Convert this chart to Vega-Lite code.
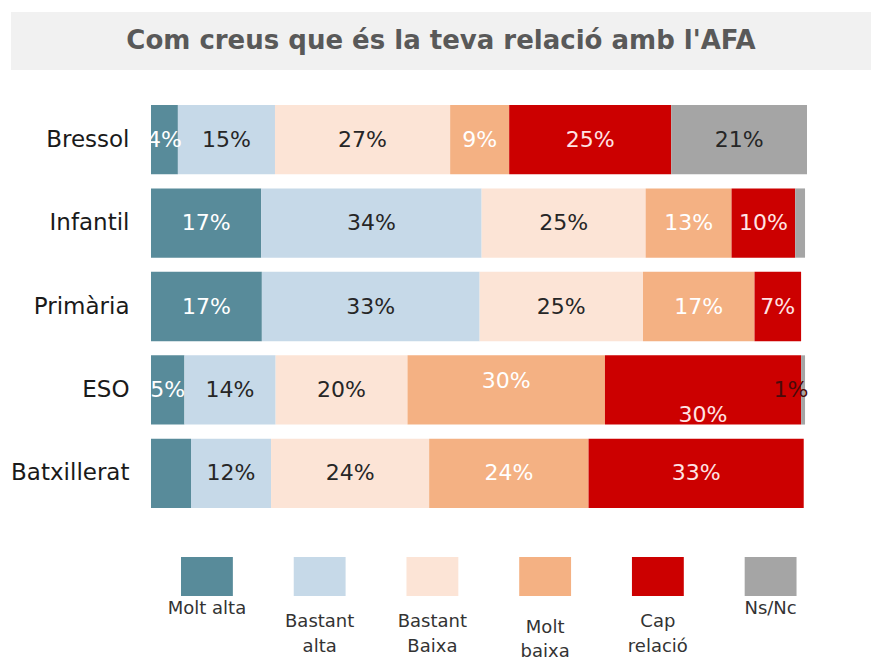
{
  "$schema": "https://vega.github.io/schema/vega-lite/v6.json",
  "background": "white",
  "padding": {"left": 10, "top": 12, "right": 0, "bottom": 0},
  "config": {"view": {"stroke": null}, "font": "DejaVu Sans"},
  "datasets": {
    "titol": [{"t": "Com creus que és la teva relació amb l'AFA"}],
    "resp": [
      {"grup": "Bressol", "cat": "Molt alta", "k": 1, "v": 0.041},
      {"grup": "Bressol", "cat": "Bastant alta", "k": 2, "v": 0.148},
      {"grup": "Bressol", "cat": "Bastant baixa", "k": 3, "v": 0.267},
      {"grup": "Bressol", "cat": "Molt baixa", "k": 4, "v": 0.09},
      {"grup": "Bressol", "cat": "Cap relació", "k": 5, "v": 0.247},
      {"grup": "Bressol", "cat": "Ns/Nc", "k": 6, "v": 0.207},
      {"grup": "Infantil", "cat": "Molt alta", "k": 1, "v": 0.168},
      {"grup": "Infantil", "cat": "Bastant alta", "k": 2, "v": 0.336},
      {"grup": "Infantil", "cat": "Bastant baixa", "k": 3, "v": 0.25},
      {"grup": "Infantil", "cat": "Molt baixa", "k": 4, "v": 0.131},
      {"grup": "Infantil", "cat": "Cap relació", "k": 5, "v": 0.097},
      {"grup": "Infantil", "cat": "Ns/Nc", "k": 6, "v": 0.015},
      {"grup": "Primària", "cat": "Molt alta", "k": 1, "v": 0.169},
      {"grup": "Primària", "cat": "Bastant alta", "k": 2, "v": 0.332},
      {"grup": "Primària", "cat": "Bastant baixa", "k": 3, "v": 0.249},
      {"grup": "Primària", "cat": "Molt baixa", "k": 4, "v": 0.17},
      {"grup": "Primària", "cat": "Cap relació", "k": 5, "v": 0.071},
      {"grup": "ESO", "cat": "Molt alta", "k": 1, "v": 0.051},
      {"grup": "ESO", "cat": "Bastant alta", "k": 2, "v": 0.139},
      {"grup": "ESO", "cat": "Bastant baixa", "k": 3, "v": 0.201},
      {"grup": "ESO", "cat": "Molt baixa", "k": 4, "v": 0.301},
      {"grup": "ESO", "cat": "Cap relació", "k": 5, "v": 0.299},
      {"grup": "ESO", "cat": "Ns/Nc", "k": 6, "v": 0.006},
      {"grup": "Batxillerat", "cat": "Molt alta", "k": 1, "v": 0.061},
      {"grup": "Batxillerat", "cat": "Bastant alta", "k": 2, "v": 0.122},
      {"grup": "Batxillerat", "cat": "Bastant baixa", "k": 3, "v": 0.241},
      {"grup": "Batxillerat", "cat": "Molt baixa", "k": 4, "v": 0.243},
      {"grup": "Batxillerat", "cat": "Cap relació", "k": 5, "v": 0.328}
    ],
    "llegenda": [
      {"cat": "Molt alta", "etiqueta": "Molt alta"},
      {"cat": "Bastant alta", "etiqueta": "Bastant\nalta"},
      {"cat": "Bastant baixa", "etiqueta": "Bastant\nBaixa"},
      {"cat": "Molt baixa", "etiqueta": "Molt\nbaixa"},
      {"cat": "Cap relació", "etiqueta": "Cap\nrelació"},
      {"cat": "Ns/Nc", "etiqueta": "Ns/Nc"}
    ]
  },
  "spacing": 49,
  "vconcat": [
    {
      "spacing": 35,
      "vconcat": [
        {
          "width": 860,
          "height": 58,
          "data": {"name": "titol"},
          "view": {"fill": "#f1f1f1", "stroke": null},
          "mark": {"type": "text", "fontSize": 26, "fontWeight": "bold", "color": "#595959", "font": "DejaVu Sans"},
          "encoding": {"text": {"field": "t", "type": "nominal"}}
        },
        {
          "width": 796,
          "height": 403,
          "data": {"name": "resp"},
          "transform": [
            {"stack": "v", "groupby": ["grup"], "sort": [{"field": "k", "order": "ascending"}], "as": ["x0", "x1"]},
            {"calculate": "(datum.x0 + datum.x1) / 2", "as": "xm"}
          ],
          "encoding": {
            "y": {
              "field": "grup", "type": "nominal",
              "sort": ["Bressol", "Infantil", "Primària", "ESO", "Batxillerat"],
              "scale": {"paddingInner": 0.17, "paddingOuter": 0},
              "axis": {"title": null, "domain": false, "ticks": false, "offset": -140, "labelPadding": 22, "labelFontSize": 23, "labelColor": "#1a1a1a", "labelFont": "DejaVu Sans"}
            }
          },
          "layer": [
            {
              "mark": {"type": "bar"},
              "encoding": {
                "x": {"field": "x0", "type": "quantitative", "scale": {"domain": [-0.21341, 1], "nice": false, "zero": false}, "axis": null},
                "x2": {"field": "x1"},
                "color": {
                  "field": "cat", "type": "nominal",
                  "scale": {
                    "domain": ["Molt alta", "Bastant alta", "Bastant baixa", "Molt baixa", "Cap relació", "Ns/Nc"],
                    "range": ["#588B9A", "#C6D9E8", "#FCE4D6", "#F4B183", "#CC0000", "#A5A5A5"]
                  },
                  "legend": null
                }
              }
            },
            {
              "transform": [
                {"filter": "!(datum.grup == 'Batxillerat' && datum.cat == 'Molt alta') && !(datum.grup == 'Infantil' && datum.cat == 'Ns/Nc') && !(datum.grup == 'ESO' && (datum.cat == 'Molt baixa' || datum.cat == 'Cap relació' || datum.cat == 'Ns/Nc'))"}
              ],
              "mark": {"type": "text", "fontSize": 22, "font": "DejaVu Sans"},
              "encoding": {
                "x": {"field": "xm", "type": "quantitative"},
                "text": {"field": "v", "type": "quantitative", "format": ".0%"},
                "color": {
                  "condition": [
                    {"test": "datum.cat == 'Cap relació'", "value": "#ffe4e4"},
                    {"test": "datum.cat == 'Molt alta' || datum.cat == 'Molt baixa'", "value": "#ffffff"}
                  ],
                  "value": "#262626"
                }
              }
            },
            {
              "transform": [{"filter": "datum.grup == 'ESO' && datum.cat == 'Molt baixa'"}],
              "mark": {"type": "text", "fontSize": 22, "font": "DejaVu Sans", "dy": -9, "color": "#ffffff"},
              "encoding": {"x": {"field": "xm", "type": "quantitative"}, "text": {"field": "v", "type": "quantitative", "format": ".0%"}}
            },
            {
              "transform": [{"filter": "datum.grup == 'ESO' && datum.cat == 'Cap relació'"}],
              "mark": {"type": "text", "fontSize": 22, "font": "DejaVu Sans", "dy": 25, "color": "#ffe4e4"},
              "encoding": {"x": {"field": "xm", "type": "quantitative"}, "text": {"field": "v", "type": "quantitative", "format": ".0%"}}
            },
            {
              "transform": [{"filter": "datum.grup == 'ESO' && datum.cat == 'Ns/Nc'"}],
              "mark": {"type": "text", "fontSize": 22, "font": "DejaVu Sans", "dx": -12, "color": "#4a0a0a"},
              "encoding": {"x": {"field": "xm", "type": "quantitative"}, "text": {"field": "v", "type": "quantitative", "format": ".0%"}}
            }
          ]
        }
      ]
    },
    {
      "spacing": 10,
      "bounds": "flush",
      "vconcat": [
        {
          "width": 841,
          "height": 39,
          "data": {"name": "llegenda"},
          "mark": {"type": "rect"},
          "encoding": {
            "x": {
              "field": "cat", "type": "nominal", "sort": null,
              "scale": {"type": "band", "domain": ["Molt alta", "Bastant alta", "Bastant baixa", "Molt baixa", "Cap relació", "Ns/Nc"], "paddingInner": 0.54, "paddingOuter": 1, "align": 0.754},
              "axis": null
            },
            "color": {
              "field": "cat", "type": "nominal",
              "scale": {
                "domain": ["Molt alta", "Bastant alta", "Bastant baixa", "Molt baixa", "Cap relació", "Ns/Nc"],
                "range": ["#588B9A", "#C6D9E8", "#FCE4D6", "#F4B183", "#CC0000", "#A5A5A5"]
              },
              "legend": null
            }
          }
        },
        {
          "width": 841,
          "height": 56,
          "data": {"name": "llegenda"},
          "encoding": {
            "x": {
              "field": "cat", "type": "nominal", "sort": null,
              "scale": {"type": "band", "domain": ["Molt alta", "Bastant alta", "Bastant baixa", "Molt baixa", "Cap relació", "Ns/Nc"], "paddingInner": 0.54, "paddingOuter": 1, "align": 0.754},
              "axis": null
            },
            "text": {"field": "etiqueta", "type": "nominal"}
          },
          "layer": [
            {
              "transform": [{"filter": "indexof(datum.etiqueta, '\\n') >= 0 && datum.cat != 'Molt baixa'"}],
              "mark": {"type": "text", "lineBreak": "\n", "fontSize": 18, "lineHeight": 25, "dy": -12, "color": "#333333", "font": "DejaVu Sans"}
            },
            {
              "transform": [{"filter": "datum.cat == 'Molt baixa'"}],
              "mark": {"type": "text", "lineBreak": "\n", "fontSize": 18, "lineHeight": 24, "dy": -6, "color": "#333333", "font": "DejaVu Sans"}
            },
            {
              "transform": [{"filter": "indexof(datum.etiqueta, '\\n') < 0"}],
              "mark": {"type": "text", "fontSize": 18, "dy": -25, "color": "#333333", "font": "DejaVu Sans"}
            }
          ]
        }
      ]
    }
  ]
}
